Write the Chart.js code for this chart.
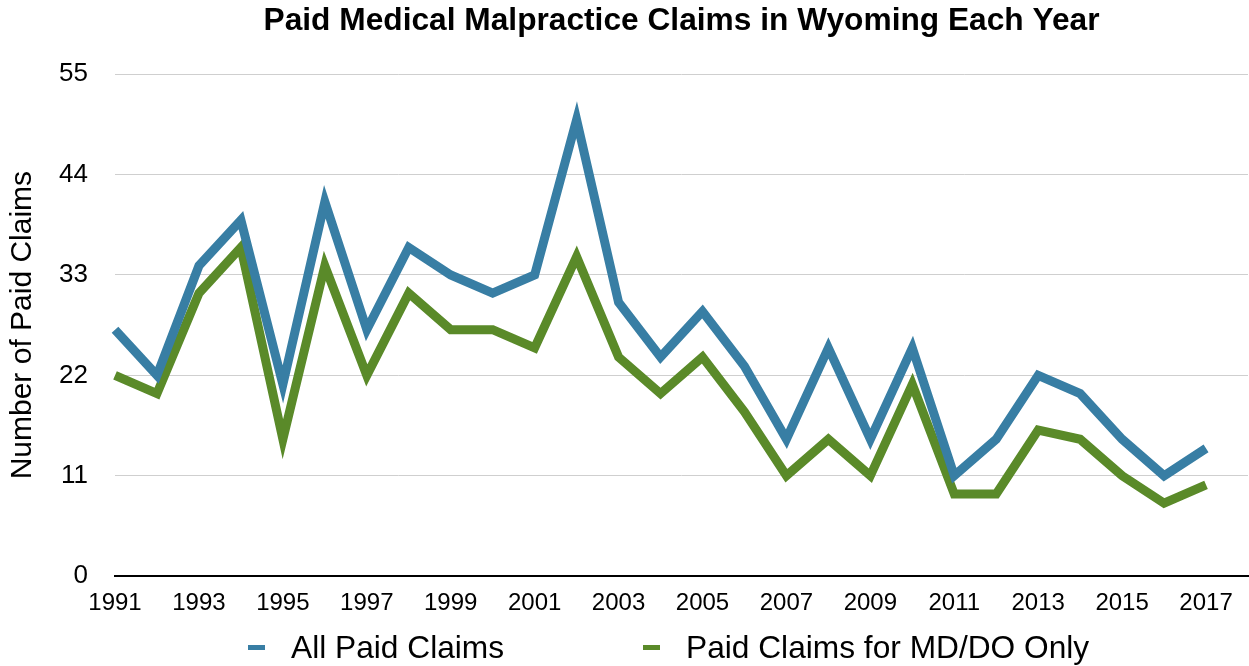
<!DOCTYPE html>
<html>
<head>
<meta charset="utf-8">
<title>Paid Medical Malpractice Claims in Wyoming Each Year</title>
<script src="https://cdn.jsdelivr.net/npm/chart.js@4"></script>
<style>
  html, body { margin: 0; padding: 0; background: #fff; }
  #wrap { position: relative; width: 1249px; height: 666px; }
  #legend {
    position: absolute; left: 0; top: 628px; width: 1249px; height: 38px;
    font-family: "Liberation Sans", Arial, Helvetica, sans-serif;
    font-size: 31.7px; color: #000; line-height: 38px;
  }
  .item { position: absolute; top: 0; display: flex; align-items: center; white-space: nowrap; }
  .swatch { display: inline-block; width: 17px; height: 5px; margin-right: 26px; }
</style>
</head>
<body>
<div id="wrap">
  <canvas id="myChart" width="1249" height="666"></canvas>
  <div id="legend"></div>
</div>
<script>
const years = [
  "1991", "1992", "1993", "1994", "1995", "1996", "1997", "1998", "1999",
  "2000", "2001", "2002", "2003", "2004", "2005", "2006", "2007", "2008",
  "2009", "2010", "2011", "2012", "2013", "2014", "2015", "2016", "2017",
];
const allPaidClaims = [
  27, 22, 34, 39, 21, 41, 27, 36, 33, 31, 33, 50, 30, 24, 29, 23, 15, 25,
  15, 25, 11, 15, 22, 20, 15, 11, 14,
];
const mdDoClaims = [
  22, 20, 31, 36, 15, 34, 22, 31, 27, 27, 25, 35, 24, 20, 24, 18, 11, 15,
  11, 21, 9, 9, 16, 15, 11, 8, 10,
];
const seriesNames = ["All Paid Claims", "Paid Claims for MD/DO Only"];
const seriesColors = ["#387ea4", "#5a8a29"];
const legendLefts = [248, 643];

const FONT = "'Liberation Sans', Arial, Helvetica, sans-serif";
Chart.defaults.font.family = FONT;
Chart.defaults.color = "#000";

// one empty slot after 2017 so the axis runs on past the last point
const labels = years.concat([""]);

const ctx = document.getElementById("myChart").getContext("2d");

const config = {
  type: "line",
  data: {
    labels: labels,
    datasets: [
      {
        label: seriesNames[0],
        data: allPaidClaims,
        borderColor: seriesColors[0],
        backgroundColor: seriesColors[0],
      },
      {
        label: seriesNames[1],
        data: mdDoClaims,
        borderColor: seriesColors[1],
        backgroundColor: seriesColors[1],
      },
    ],
  },
  options: {
    responsive: false,
    animation: false,
    layout: { padding: { top: 0, left: 0, right: 1, bottom: 48 } },
    elements: {
      line: { borderWidth: 9, tension: 0, borderJoinStyle: "miter", borderCapStyle: "butt", fill: false },
      point: { radius: 0, hoverRadius: 0 },
    },
    plugins: {
      legend: { display: false },
      tooltip: { enabled: false },
      title: {
        display: true,
        fullSize: false,
        text: "Paid Medical Malpractice Claims in Wyoming Each Year",
        color: "#000",
        font: { size: 31.7, weight: "bold" },
        padding: { top: 2, bottom: 34 },
      },
    },
    scales: {
      x: {
        type: "category",
        offset: false,
        // invisible tick marks give the gap under the axis line
        grid: { display: true, drawOnChartArea: false, drawTicks: true, tickLength: 13, color: "rgba(0,0,0,0)" },
        border: { display: true, color: "#000", width: 2 },
        ticks: {
          autoSkip: false,
          maxRotation: 0,
          padding: 0,
          font: { size: 24 },
          color: "#000",
          callback: function (value, index) {
            return index % 2 === 0 ? labels[index] : "";
          },
        },
      },
      y: {
        min: 0,
        max: 55,
        border: { display: false },
        grid: {
          drawTicks: false,
          lineWidth: 1,
          color: (c) => (c.tick && c.tick.value === 0 ? "#000" : "#cfcfcf"),
        },
        ticks: { stepSize: 11, padding: 27, font: { size: 26 }, color: "#000" },
        title: {
          display: true,
          text: "Number of Paid Claims",
          color: "#000",
          font: { size: 30, lineHeight: 0.6 },
          padding: { top: 13.5, bottom: 0.6 },
        },
      },
    },
  },
};

let myChart = new Chart(ctx, config);

// legend as plain html under the plot
const legendEl = document.getElementById("legend");
config.data.datasets.forEach((ds, i) => {
  const item = document.createElement("div");
  item.className = "item";
  item.style.left = legendLefts[i] + "px";
  const sw = document.createElement("span");
  sw.className = "swatch";
  sw.style.background = ds.borderColor;
  const txt = document.createElement("span");
  txt.textContent = ds.label;
  item.appendChild(sw);
  item.appendChild(txt);
  legendEl.appendChild(item);
});
</script>
</body>
</html>
